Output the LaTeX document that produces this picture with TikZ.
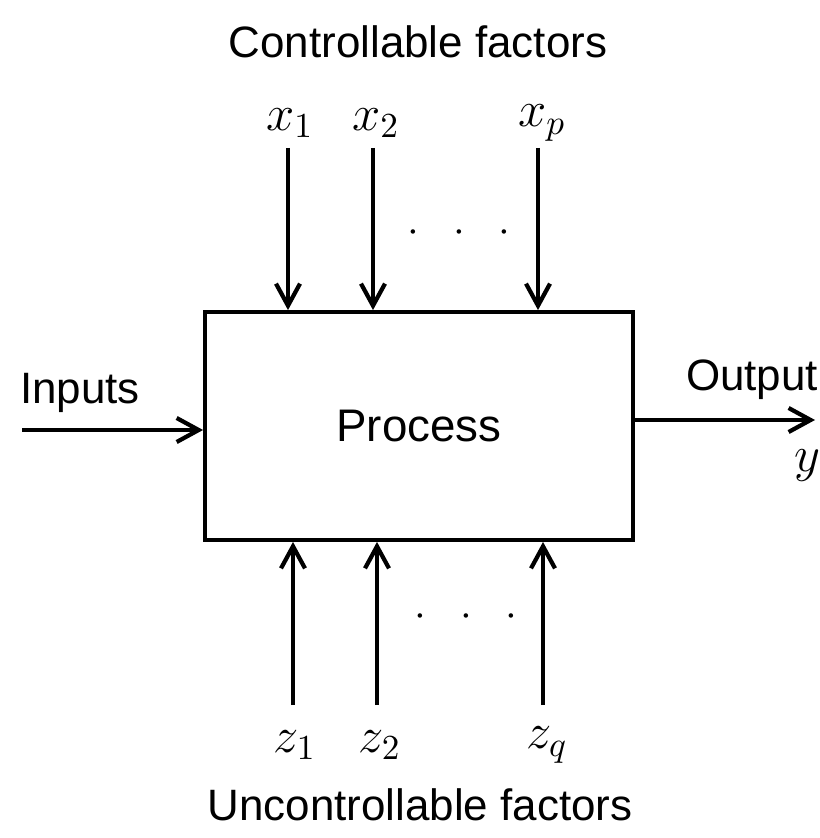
\documentclass[tikz,border=0pt]{standalone}
\usepackage{fontspec}
\setmainfont{Liberation Sans}
\usepackage{tikz}
\usetikzlibrary{arrows.meta,positioning}

\begin{document}
\begin{tikzpicture}[
		factorarrow/.style={
			-{Straight Barb[length=2.2mm,width=2.4mm]},
			line width=1.2pt
		},
		procbox/.style={
			rectangle,
			draw,
			line width=1.1pt,
			minimum width=4.28cm,
			minimum height=2.28cm,
			font=\fontsize{13}{15}\selectfont
		},
		caption/.style={
			font=\fontsize{12.5}{14}\selectfont
		},
		varlabel/.style={
			inner sep=1pt,
			font=\fontsize{14}{16}\selectfont
		},
		dotrow/.style={
			font=\fontsize{12}{14}\selectfont
		}
		]
		
		\useasboundingbox (0,0) rectangle (8.19,-8.38);
		
		\node[procbox] (proc) at (4.19,-4.26) {Process};
		
		\node[caption] (ctrl) at (4.18,-0.42) {Controllable factors};
		\node[caption] (unctrl) at (4.20,-8.05) {Uncontrollable factors};
		
		\node[varlabel] (x1) at (2.90,-1.23) {$x_1$};
		\node[varlabel] (x2) at (3.76,-1.23) {$x_2$};
		\node[varlabel] (xp) at (5.42,-1.23) {$x_p$};
		
		\node[varlabel] (z1) at (2.95,-7.45) {$z_1$};
		\node[varlabel] (z2) at (3.80,-7.45) {$z_2$};
		\node[varlabel] (zq) at (5.47,-7.45) {$z_q$};
		
		\node[dotrow] (xdots) at (4.59,-2.33) {$\cdot\hspace{7pt}\cdot\hspace{7pt}\cdot$};
		\node[dotrow] (zdots) at (4.66,-6.17) {$\cdot\hspace{7pt}\cdot\hspace{7pt}\cdot$};
		
		\node[caption] (inlabel) at (0.80,-3.93) {Inputs};
		\node[caption] (outlabel) at (7.52,-3.80) {Output};
		\node[varlabel] (ylabel) at (8.07,-4.66) {$y$};
		
		\coordinate (xs1) at (2.88,-1.48);
		\coordinate (xs2) at (3.73,-1.48);
		\coordinate (xsp) at (5.38,-1.48);
		\coordinate (zs1) at (2.93,-7.05);
		\coordinate (zs2) at (3.77,-7.05);
		\coordinate (zsq) at (5.43,-7.05);
		\coordinate (insrc) at (0.22,-4.30);
		\coordinate (outdst) at (8.15,-4.20);
		
		\draw[factorarrow] (xs1) -- (xs1 |- proc.north);
		\draw[factorarrow] (xs2) -- (xs2 |- proc.north);
		\draw[factorarrow] (xsp) -- (xsp |- proc.north);
		
		\draw[factorarrow] (zs1) -- (zs1 |- proc.south);
		\draw[factorarrow] (zs2) -- (zs2 |- proc.south);
		\draw[factorarrow] (zsq) -- (zsq |- proc.south);
		
		\draw[factorarrow] (insrc) -- (insrc -| proc.west);
		\draw[factorarrow] (outdst -| proc.east) -- (outdst);
		
	\end{tikzpicture}
\end{document}
